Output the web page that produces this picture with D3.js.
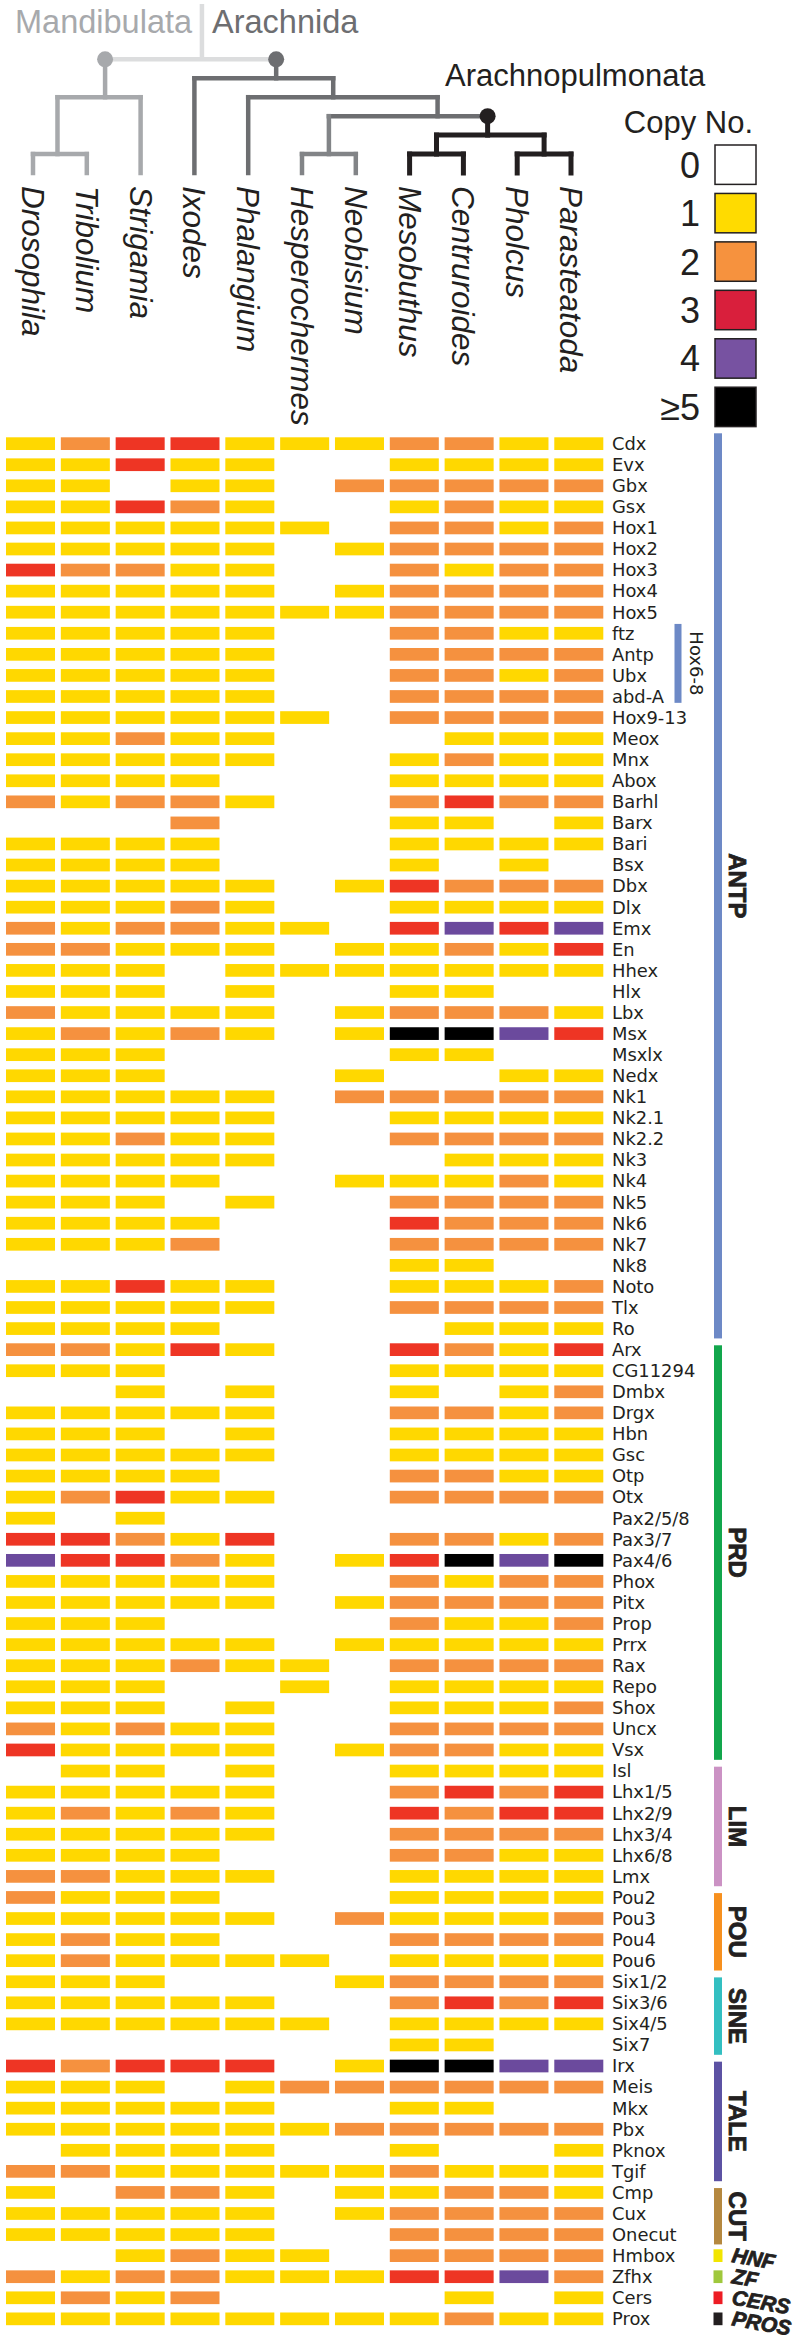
<!DOCTYPE html>
<html><head><meta charset="utf-8">
<script src="https://cdn.jsdelivr.net/npm/d3@7"></script>
<style>body{margin:0;background:#fff}</style>
</head><body>
<svg id="chart" width="800" height="2344"></svg>
<script>
// ---------------- DATA ----------------
const species = ["Drosophila","Tribolium","Strigamia","Ixodes","Phalangium","Hesperochermes","Neobisium","Mesobuthus","Centruroides","Pholcus","Parasteatoda"];

const genes = ["Cdx","Evx","Gbx","Gsx","Hox1","Hox2","Hox3","Hox4","Hox5","ftz","Antp","Ubx","abd-A","Hox9-13","Meox","Mnx","Abox","Barhl","Barx","Bari","Bsx","Dbx","Dlx","Emx","En","Hhex","Hlx","Lbx","Msx","Msxlx","Nedx","Nk1","Nk2.1","Nk2.2","Nk3","Nk4","Nk5","Nk6","Nk7","Nk8","Noto","Tlx","Ro",
"Arx","CG11294","Dmbx","Drgx","Hbn","Gsc","Otp","Otx","Pax2/5/8","Pax3/7","Pax4/6","Phox","Pitx","Prop","Prrx","Rax","Repo","Shox","Uncx","Vsx",
"Isl","Lhx1/5","Lhx2/9","Lhx3/4","Lhx6/8","Lmx","Pou2","Pou3","Pou4","Pou6","Six1/2","Six3/6","Six4/5","Six7","Irx","Meis","Mkx","Pbx","Pknox","Tgif","Cmp","Cux","Onecut","Hmbox","Zfhx","Cers","Prox"];

// copy number per gene (rows) and species (columns); 5 means >=5
const copies = [
[1,2,3,3,1,1,1,2,2,1,1],[1,1,3,1,1,0,0,1,1,1,1],[1,1,0,1,1,0,2,2,2,2,2],[1,1,3,2,1,0,0,1,2,1,1],
[1,1,1,1,1,1,0,2,2,1,2],[1,1,1,1,1,0,1,2,2,2,2],[3,2,2,1,1,0,0,2,1,2,2],[1,1,1,1,1,0,1,2,2,2,2],
[1,1,1,1,1,1,1,2,2,2,2],[1,1,1,1,1,0,0,2,2,1,1],[1,1,1,1,1,0,0,2,2,2,2],[1,1,1,1,1,0,0,2,2,1,2],
[1,1,1,1,1,0,0,2,2,2,2],[1,1,1,1,1,1,0,2,2,2,2],[1,1,2,1,1,0,0,0,1,1,1],[1,1,1,1,1,0,0,1,2,1,1],
[1,1,1,1,0,0,0,1,1,1,1],[2,1,2,2,1,0,0,2,3,2,2],[0,0,0,2,0,0,0,1,1,0,1],[1,1,1,1,0,0,0,1,1,1,1],
[1,1,1,1,0,0,0,1,0,1,0],[1,1,1,1,1,0,1,3,2,2,2],[1,1,1,2,1,0,0,1,1,1,1],[2,1,2,2,1,1,0,3,4,3,4],
[2,2,1,1,1,0,1,1,2,1,3],[1,1,1,0,1,1,1,1,1,1,1],[1,1,1,0,1,0,0,1,1,0,0],[2,1,1,1,1,0,1,2,2,2,1],
[1,2,1,2,1,0,1,5,5,4,3],[1,1,1,0,0,0,0,1,1,0,0],[1,1,1,0,0,0,1,0,0,1,1],[1,1,1,1,1,0,2,2,2,2,2],
[1,1,1,1,1,0,0,1,1,1,1],[1,1,2,1,1,0,0,2,2,2,2],[1,1,1,1,1,0,0,0,1,1,1],[1,1,1,1,0,0,1,1,1,2,1],
[1,1,1,0,1,0,0,2,2,2,2],[1,1,1,1,0,0,0,3,2,2,2],[1,1,1,2,0,0,0,2,2,2,2],[0,0,0,0,0,0,0,1,1,0,0],
[1,1,3,1,1,0,0,1,1,1,2],[1,1,1,1,1,0,0,2,2,2,2],[1,1,1,1,0,0,0,0,1,1,1],
[2,2,1,3,1,0,0,3,2,1,3],[1,1,1,0,0,0,0,1,1,1,1],[0,0,1,0,1,0,0,1,0,1,2],[1,1,1,1,1,0,0,2,2,1,2],
[1,1,1,0,1,0,0,1,1,1,1],[1,1,1,1,1,0,0,1,1,1,1],[1,1,1,1,0,0,0,2,2,1,1],[1,2,3,1,1,0,0,2,2,2,2],
[1,0,1,0,0,0,0,0,0,0,0],[3,3,2,1,3,0,0,2,2,1,2],[4,3,3,2,1,0,1,3,5,4,5],[1,1,1,1,1,0,0,2,1,2,2],
[1,1,1,1,1,0,1,2,2,2,2],[1,1,1,0,0,0,0,2,1,1,2],[1,1,1,1,1,0,1,1,1,1,1],[1,1,1,2,1,1,0,2,2,2,2],
[1,1,1,0,0,1,0,1,1,1,1],[1,1,1,0,1,0,0,1,1,1,2],[2,1,2,1,1,0,0,2,2,2,2],[3,1,1,1,1,0,1,2,2,1,1],
[0,1,1,0,1,0,0,1,1,1,1],[1,1,1,1,1,0,0,2,3,2,3],[1,2,1,2,1,0,0,3,2,3,3],[1,1,1,1,1,0,0,2,2,2,2],
[1,1,1,1,0,0,0,2,2,1,1],[2,2,1,1,1,0,0,1,1,1,1],
[2,1,1,1,0,0,0,1,1,1,1],[1,1,1,1,1,0,2,1,1,1,2],[1,2,1,1,0,0,0,2,2,2,2],[1,2,1,1,1,1,0,1,1,1,1],
[1,1,1,0,0,0,1,2,2,2,2],[1,1,1,1,1,0,0,2,3,2,3],[1,1,1,1,1,1,0,1,1,1,1],[0,0,0,0,0,0,0,1,1,0,0],
[3,2,3,3,3,0,1,5,5,4,4],[1,1,1,0,1,2,2,2,2,2,2],[1,1,1,1,1,0,0,1,1,0,0],[1,1,1,1,1,1,2,2,2,2,2],
[0,1,1,1,1,0,0,1,0,0,1],[2,2,1,1,1,1,1,2,1,1,1],
[1,0,2,2,1,0,1,1,2,2,1],[1,1,1,1,1,0,1,2,2,2,2],[1,1,1,1,1,0,0,2,2,2,2],
[0,0,1,2,1,1,0,2,2,2,2],[2,1,2,2,1,1,1,3,3,4,2],[1,2,1,2,0,0,0,0,1,0,1],[1,1,1,1,1,1,1,1,2,1,1]
];

const classNames = ["ANTP","PRD","LIM","POU","SINE","TALE","CUT","HNF","ZF","CERS","PROS"];
const classFirst = ["Cdx","Arx","Isl","Pou2","Six1/2","Irx","Cmp","Hmbox","Zfhx","Cers","Prox"];
const classLast  = ["Ro","Vsx","Lmx","Pou6","Six7","Tgif","Onecut","Hmbox","Zfhx","Cers","Prox"];

const subName = "Hox6-8", subFirst = "ftz", subLast = "abd-A";

const legendValues = [0,1,2,3,4,5];
const legendLabels = ["0","1","2","3","4","\u22655"];

// tree: pos = position on leaf axis, level = depth of horizontal bar
const tree = {pos:3.14, level:0, tone:"root", children:[
  {name:"Mandibulata", pos:1.34, level:2, dot:true, tone:"mand", children:[
    {pos:0.455, level:5, children:[{leaf:0},{leaf:1}]},
    {leaf:2}
  ]},
  {name:"Arachnida", pos:4.52, level:1, dot:true, tone:"arach", children:[
    {leaf:3},
    {pos:5.58, level:2, children:[
      {leaf:4},
      {pos:7.52, level:3, children:[
        {pos:5.5, level:5, tone:"pseudo", children:[{leaf:5},{leaf:6}]},
        {name:"Arachnopulmonata", pos:8.45, level:4, dot:true, tone:"pulm", children:[
          {pos:7.5, level:5, children:[{leaf:7},{leaf:8}]},
          {pos:9.5, level:5, children:[{leaf:9},{leaf:10}]}
        ]}
      ]}
    ]}
  ]}
]};

// ---------------- STYLES ----------------
const cellColor = d3.scaleOrdinal().domain([1,2,3,4,5]).range(["#ffd800","#f5913f","#ee3524","#6b4a9d","#000000"]);
const legendColor = d3.scaleOrdinal().domain(legendValues).range(["#ffffff","#ffdb00","#f6923e","#d91f3c","#7752a1","#000000"]);
const classColor = d3.scaleOrdinal().domain(classNames).range(["#6d89c6","#12a64c","#cb92c4","#f7901e","#33bfc1","#5c52a3","#b5883f","#f2e500","#9fc83c","#ed1c24","#231f20"]);
const toneColor = {root:"#dcddde", mand:"#a7a9ac", arach:"#6d6e71", pseudo:"#828487", pulm:"#231f20"};
const toneWidth = {root:4.5, mand:4.5, arach:4.5, pseudo:4.5, pulm:5};
const ink = "#231f20";
const sans = "'Liberation Sans', Arial, sans-serif";
const labelFont = "'DejaVu Sans', sans-serif";

const svg = d3.select("#chart");

// ---------------- SCALES ----------------
const x = d3.scaleBand().domain(species).range([6, 603.3]).paddingInner(0.106).paddingOuter(0);
const y = d3.scaleBand().domain(genes).range([437.3, 2325.2]).paddingInner(0.397).paddingOuter(0);
const xTree = d3.scaleLinear().domain([0, species.length - 1]).range([33, 571]);
const yTree = d3.scaleLinear().domain([0, 6]).range([59.3, 173]);
const yLeg = d3.scaleBand().domain(legendValues).range([145, 426.6]).paddingInner(0.187).paddingOuter(0);

// ---------------- HEATMAP ----------------
const cells = [];
genes.forEach((g, r) => species.forEach((s, c) => { const v = copies[r][c]; if (v > 0) cells.push({g, s, v}); }));
svg.append("g").selectAll("rect").data(cells).join("rect")
  .attr("x", d => x(d.s)).attr("y", d => y(d.g))
  .attr("width", x.bandwidth()).attr("height", y.bandwidth())
  .attr("fill", d => cellColor(d.v));

// row labels
svg.append("g").selectAll("text").data(genes).join("text")
  .attr("x", 612).attr("y", d => y(d) + y.bandwidth())
  .attr("font-family", labelFont).attr("font-size", 17.9).attr("fill", ink)
  .text(d => d);

// Hox6-8 sub-bracket
{
  const top = y(subFirst) - 3, bot = y(subLast) + y.bandwidth();
  svg.append("rect").attr("x", 674.5).attr("y", top).attr("width", 7).attr("height", bot - top).attr("fill", classColor("ANTP"));
  svg.append("text").attr("transform", `translate(696,${(top + bot) / 2}) rotate(90)`)
    .attr("text-anchor", "middle").attr("dy", "0.36em")
    .attr("font-family", labelFont).attr("font-size", 18).attr("fill", ink).text(subName);
}

// class bars and labels
const classes = classNames.map((n, i) => ({name: n, first: classFirst[i], last: classLast[i], single: classFirst[i] === classLast[i]}));
const cg = svg.append("g");
classes.forEach((c, i) => {
  if (!c.single) {
    const top = y(c.first) + (i === 0 ? -4 : 2), bot = y(c.last) + y.bandwidth() + 3.5;
    cg.append("rect").attr("x", 714).attr("y", top).attr("width", 8).attr("height", bot - top).attr("fill", classColor(c.name));
    cg.append("text").attr("transform", `translate(737,${(top + bot) / 2}) rotate(90)`)
      .attr("text-anchor", "middle").attr("dy", "0.35em")
      .attr("font-family", sans).attr("font-weight", "bold").attr("font-size", 24)
      .attr("fill", ink).attr("stroke", ink).attr("stroke-width", 0.8)
      .text(c.name);
  } else {
    const top = y(c.first);
    cg.append("rect").attr("x", 713.5).attr("y", top).attr("width", 9).attr("height", y.bandwidth()).attr("fill", classColor(c.name));
    cg.append("text").attr("transform", `translate(731,${top + y.bandwidth()}) rotate(10)`)
      .attr("font-family", sans).attr("font-weight", "bold").attr("font-style", "italic").attr("font-size", 21)
      .attr("fill", ink).attr("stroke", ink).attr("stroke-width", 0.8)
      .text(c.name);
  }
});

// ---------------- TREE ----------------
const tg = svg.append("g").attr("fill", "none");
const dots = [];
function drawNode(node, parentLevel, tone) {
  const t = node.tone || tone;
  const nx = xTree(node.leaf !== undefined ? node.leaf : node.pos);
  const nyBottom = yTree(node.leaf !== undefined ? 6 : node.level);
  if (parentLevel !== undefined) {
    tg.append("line").attr("x1", nx).attr("x2", nx).attr("y1", yTree(parentLevel)).attr("y2", nyBottom)
      .attr("stroke", toneColor[t]).attr("stroke-width", toneWidth[t]).attr("stroke-linecap", "square");
    if (node.dot) dots.push({x: nx, y: yTree(parentLevel), tone: t});
  }
  if (node.children) {
    const xs = node.children.map(ch => xTree(ch.leaf !== undefined ? ch.leaf : ch.pos));
    tg.append("line").attr("x1", d3.min(xs)).attr("x2", d3.max(xs)).attr("y1", yTree(node.level)).attr("y2", yTree(node.level))
      .attr("stroke", toneColor[t]).attr("stroke-width", toneWidth[t]).attr("stroke-linecap", "square");
    node.children.forEach(ch => drawNode(ch, node.level, t));
  }
}
// root stem up to the divider between clade names
tg.append("line").attr("x1", xTree(tree.pos)).attr("x2", xTree(tree.pos)).attr("y1", 4).attr("y2", yTree(0))
  .attr("stroke", toneColor.root).attr("stroke-width", 4.5);
drawNode(tree, undefined, "root");
svg.append("g").selectAll("circle").data(dots).join("circle")
  .attr("cx", d => d.x).attr("cy", d => d.y).attr("r", 8).attr("fill", d => toneColor[d.tone]);

// clade names
svg.append("text").attr("x", 15).attr("y", 33).attr("font-family", sans).attr("font-size", 32.5).attr("fill", toneColor.mand).text(tree.children[0].name);
svg.append("text").attr("x", 212).attr("y", 33).attr("font-family", sans).attr("font-size", 32.5).attr("fill", toneColor.arach).text(tree.children[1].name);
svg.append("text").attr("x", 445).attr("y", 86).attr("font-family", sans).attr("font-size", 31).attr("fill", ink).text("Arachnopulmonata");

// species labels
svg.append("g").selectAll("text").data(species).join("text")
  .attr("transform", (d, i) => `translate(${xTree(i)},186) rotate(90)`)
  .attr("dy", "0.35em")
  .attr("font-family", sans).attr("font-style", "italic").attr("font-size", 31.5).attr("fill", ink)
  .text(d => d);

// ---------------- LEGEND ----------------
svg.append("text").attr("x", 753).attr("y", 133).attr("text-anchor", "end")
  .attr("font-family", sans).attr("font-size", 31).attr("fill", ink).text("Copy No.");
const lg = svg.append("g");
lg.selectAll("rect").data(legendValues).join("rect")
  .attr("x", 715).attr("y", d => yLeg(d)).attr("width", 41).attr("height", yLeg.bandwidth())
  .attr("fill", d => legendColor(d)).attr("stroke", ink).attr("stroke-width", 1.5);
lg.selectAll("text").data(legendValues).join("text")
  .attr("x", 700).attr("y", d => yLeg(d) + yLeg.bandwidth() / 2).attr("dy", "0.36em")
  .attr("text-anchor", "end").attr("font-family", sans).attr("font-size", 36).attr("fill", ink)
  .text((d, i) => legendLabels[i]);
</script>
</body></html>
